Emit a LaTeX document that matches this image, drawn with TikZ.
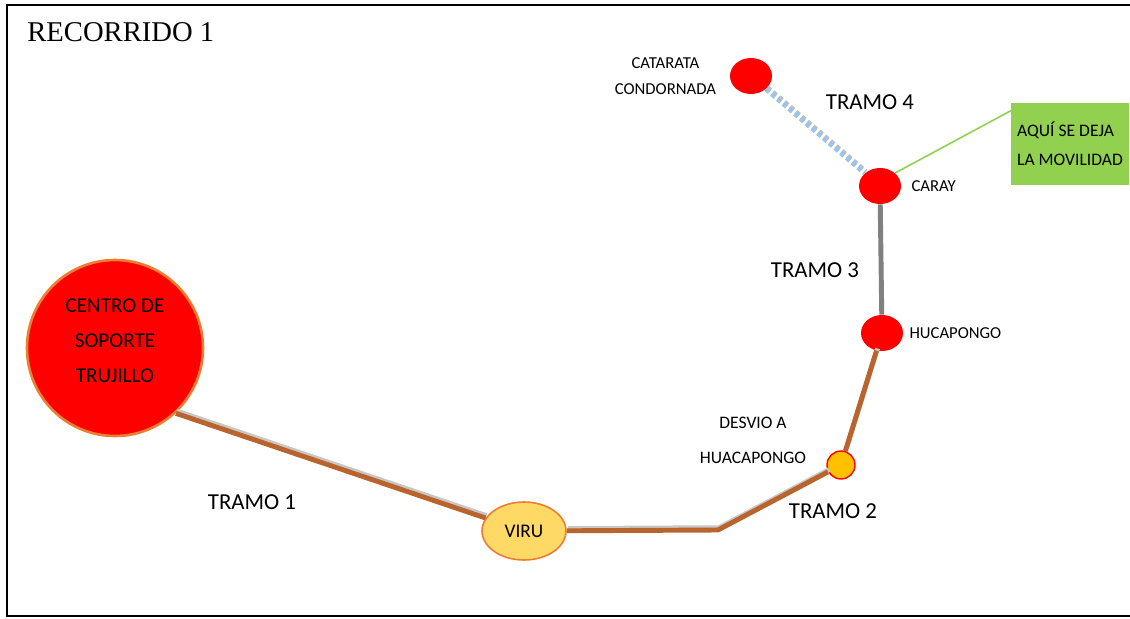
\documentclass[tikz,border=0pt]{standalone}
\usepackage{fontspec}
\setmainfont{Carlito}
\newfontfamily\titlefont{Liberation Serif}
\usetikzlibrary{shapes.geometric,positioning}
\definecolor{stopred}{HTML}{FF0000}
\definecolor{edgeorange}{HTML}{ED7D31}
\definecolor{virufill}{HTML}{FFD966}
\definecolor{desviofill}{HTML}{FFC000}
\definecolor{notegreen}{HTML}{92D050}
\definecolor{trailblue}{HTML}{9DC3E6}
\definecolor{roadbrown}{RGB}{185,100,45}
\begin{document}
\begin{tikzpicture}[x=0.02cm, y=-0.02cm,
  stop/.style={ellipse, fill=stopred, minimum width=0.84cm, minimum height=0.72cm, inner sep=0pt},
  place/.style={font=\fontsize{9.5}{14.7}\selectfont, align=center},
  tramo/.style={font=\fontsize{13}{15}\selectfont},
  road/.style={draw=roadbrown, line width=2.8pt,
    preaction={draw=black!22, line width=2.8pt, transform canvas={shift={(0.6pt,1.3pt)}}}},
  grayroad/.style={draw=black!50, line width=2.8pt},
  trail/.style={draw=trailblue, line width=3pt, dash pattern=on 2.5pt off 1.8pt,
    preaction={draw=black!25, line width=3pt, dash pattern=on 2.5pt off 1.8pt, transform canvas={shift={(0.5pt,0.8pt)}}}},
  note/.style={draw=notegreen, line width=0.9pt}]
  \useasboundingbox (0,0) rectangle (1130,619);
  \draw[line width=1.4pt] (7,5) rectangle (1145,616);
  \node[font=\titlefont\fontsize{16.3}{18}\selectfont, anchor=west, inner sep=0pt] (titulo) at (27,32) {RECORRIDO 1};
  \node[circle, draw=edgeorange, line width=1.5pt, fill=stopred, minimum size=3.52cm] (centro) at (115,348) {};
  \node[font=\fontsize{12}{20}\selectfont, align=center] (lcentro) at (115,341) {CENTRO DE\\SOPORTE\\TRUJILLO};
  \node[ellipse, draw=edgeorange, line width=0.9pt, fill=virufill, minimum width=1.68cm, minimum height=1.16cm,
    font=\fontsize{11}{13}\selectfont] (viru) at (524,531) {VIRU};
  \node[circle, draw=stopred, line width=0.8pt, fill=desviofill, minimum size=0.56cm, inner sep=0pt] (desvio) at (841,465) {};
  \node[stop] (hucap) at (882,333) {};
  \node[stop] (caray) at (880,186) {};
  \node[stop] (catarata) at (751,76) {};
  \node[fill=notegreen, minimum width=2.3cm, minimum height=1.64cm, align=left,
    font=\fontsize{10}{16.5}\selectfont] (movilidad) at (1070,144) {AQUÍ SE DEJA\\LA MOVILIDAD};
  \coordinate (curva) at (718,530);
  \draw[road] (centro.-47) -- (viru);
  \draw[road] (viru) -- (curva) -- (desvio);
  \draw[road] (desvio) -- (hucap);
  \draw[grayroad] (hucap) -- (caray);
  \draw[trail] (catarata) -- (caray);
  \draw[note] (caray.north east) -- ([yshift=-0.16cm]movilidad.north west);
  \node[place, left=0.15cm of catarata] (lcatarata) {CATARATA\\CONDORNADA};
  \node[place, right=0.08cm of caray] (lcaray) {CARAY};
  \node[place, right=0cm of hucap] (lhucap) {HUCAPONGO};
  \node[font=\fontsize{10}{20}\selectfont, align=center] (ldesvio) at (753,440) {DESVIO A\\HUACAPONGO};
  \node[tramo] (tramo1) at (252,502) {TRAMO 1};
  \node[tramo] (tramo2) at (833,511) {TRAMO 2};
  \node[tramo] (tramo3) at (815,270) {TRAMO 3};
  \node[tramo] (tramo4) at (870,102) {TRAMO 4};
\end{tikzpicture}
\end{document}
